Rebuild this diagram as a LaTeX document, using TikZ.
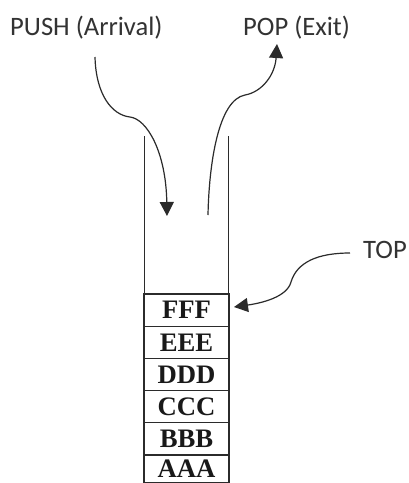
\documentclass[tikz,border=0pt]{standalone}
\usepackage{fontspec}
\setmainfont{Liberation Serif}
\newfontfamily\labelfont{Carlito}
\usetikzlibrary{arrows.meta}
\definecolor{ink}{HTML}{2B2B2B}
\definecolor{txt}{HTML}{333333}
\begin{document}
\begin{tikzpicture}[x=1pt,y=-1pt,
  lbl/.style={anchor=base west,inner sep=0pt,text=txt,font=\labelfont\fontsize{26.6}{30}\selectfont},
  cell/.style={draw=ink,line width=1.1pt,minimum width=85pt,minimum height=32.2pt,inner sep=0pt,
     font=\bfseries\fontsize{26.7}{30}\selectfont,text=black!90},
  wall/.style={draw=ink,line width=1.3pt},
  curvy/.style={draw=ink,line width=1.2pt,-{Triangle[length=14pt,width=14pt]}}]
\useasboundingbox[fill=white] (0,0) rectangle (408,483);
% labels
\node[lbl] (push) at (10,35) {PUSH (Arrival)};
\node[lbl] (pop) at (243,35) {POP (Exit)};
\node[lbl] (top) at (363,258) {TOP};
% walls
\coordinate (lwt) at (144.5,136);
\coordinate (lwb) at (144.5,294);
\coordinate (rwt) at (228.5,136);
\coordinate (rwb) at (228.5,294);
\draw[wall] (lwt) -- (lwb);
\draw[wall] (rwt) -- (rwb);
% cells
\node[cell] (F) at (186.5,310.1) {FFF};
\node[cell] (E) at (186.5,342.3) {EEE};
\node[cell] (D) at (186.5,374.5) {DDD};
\node[cell] (C) at (186.5,406.7) {CCC};
\node[cell] (B) at (186.5,438.9) {BBB};
\node[cell,minimum height=27.6pt] (A) at (186.5,468.8) {AAA};
% arrows
\coordinate (pushs) at (95,57);
\coordinate (pushm) at (130,117);
\coordinate (pusht) at (167,216);
\draw[curvy] (pushs) .. controls (96,95) and (112,115) .. (pushm)
   .. controls (147,119) and (166,152) .. (pusht);
\coordinate (pops) at (208,215);
\coordinate (popm) at (245,95);
\coordinate (popt) at (277,44);
\draw[curvy] (pops) .. controls (209,165) and (218,100) .. (popm)
   .. controls (262,92) and (275,75) .. (popt);
\coordinate (tops) at (350,253);
\coordinate (topm) at (291,282);
\coordinate (topt) at (234,307);
\draw[curvy] (tops) .. controls (318,253) and (297,262) .. (topm)
   .. controls (287,297) and (262,303) .. (topt);
\end{tikzpicture}
\end{document}
